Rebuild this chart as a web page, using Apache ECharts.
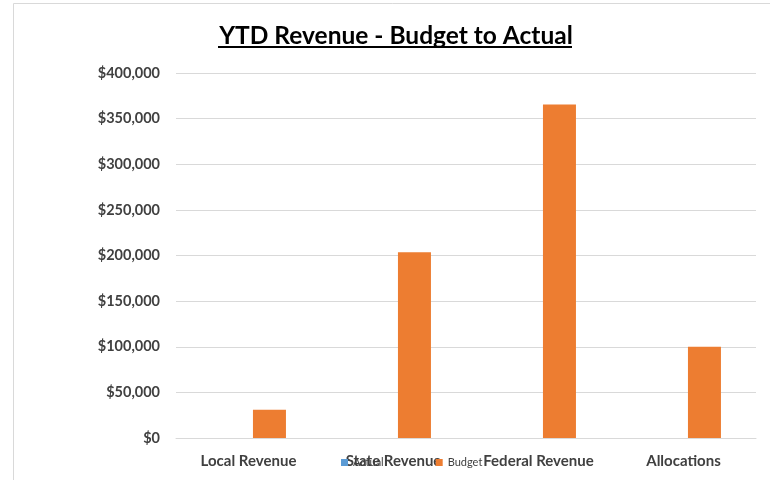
<!DOCTYPE html>
<html>
<head>
<meta charset="utf-8">
<style>
  html, body { margin: 0; padding: 0; background: #fff; }
  #chart { width: 770px; height: 480px; }
</style>
<script src="https://cdn.jsdelivr.net/npm/echarts@6/dist/echarts.min.js"></script>
</head>
<body>
<div id="chart"></div>
<script>
// categories and values
const categories = ['Local Revenue', 'State Revenue', 'Federal Revenue', 'Allocations'];
const actual = [0, 0, 0, 0];
const budget = [31000, 203500, 365500, 100000];
const yTicks = { min: 0, max: 400000, interval: 50000 };

const chart = echarts.init(document.getElementById('chart'));
const FONT = 'Lato';

function money(v) {
  return '$' + v.toLocaleString('en-US');
}

chart.setOption({
  animation: false,
  title: {
    text: 'YTD Revenue - Budget to Actual',
    left: 391,
    top: 19,
    textAlign: 'center',
    textStyle: { fontFamily: FONT, fontWeight: 'bold', fontSize: 24.5, color: '#000' },
  },
  graphic: [
    // chart frame (left and top edges visible)
    {
      type: 'rect',
      shape: { x: 13.5, y: 3.5, width: 800, height: 500 },
      style: { fill: 'none', stroke: '#d9d9d9', lineWidth: 1 },
      silent: true,
    },
    // title underline
    {
      type: 'line',
      shape: { x1: 218, y1: 47, x2: 572, y2: 47 },
      style: { stroke: '#000', lineWidth: 2 },
      silent: true,
    },
  ],
  legend: {
    left: 336,
    top: 452,
    itemWidth: 7,
    itemHeight: 7,
    itemGap: 52,
    icon: 'rect',
    textStyle: { fontFamily: FONT, fontSize: 11, color: '#404040' },
    data: ['Actual', 'Budget'],
  },
  grid: { left: 176, right: 14, top: 73, bottom: 42 },
  xAxis: {
    type: 'category',
    data: categories,
    axisTick: { show: false },
    axisLine: { lineStyle: { color: '#d9d9d9', width: 1 } },
    axisLabel: {
      margin: 16,
      fontFamily: FONT,
      fontWeight: 'bold',
      fontSize: 15,
      color: '#404040',
    },
  },
  yAxis: {
    type: 'value',
    min: yTicks.min,
    max: yTicks.max,
    interval: yTicks.interval,
    axisLine: { show: false },
    axisTick: { show: false },
    splitLine: { lineStyle: { color: '#d9d9d9', width: 1 } },
    axisLabel: {
      margin: 16,
      fontFamily: FONT,
      fontWeight: 'bold',
      fontSize: 14.5,
      color: '#404040',
      formatter: money,
    },
  },
  series: [
    {
      name: 'Actual',
      type: 'bar',
      data: actual,
      barWidth: 33,
      barGap: '27%',
      itemStyle: { color: '#5b9bd5' },
    },
    {
      name: 'Budget',
      type: 'bar',
      data: budget,
      barWidth: 33,
      itemStyle: { color: '#ed7d31' },
    },
  ],
});
</script>
</body>
</html>
